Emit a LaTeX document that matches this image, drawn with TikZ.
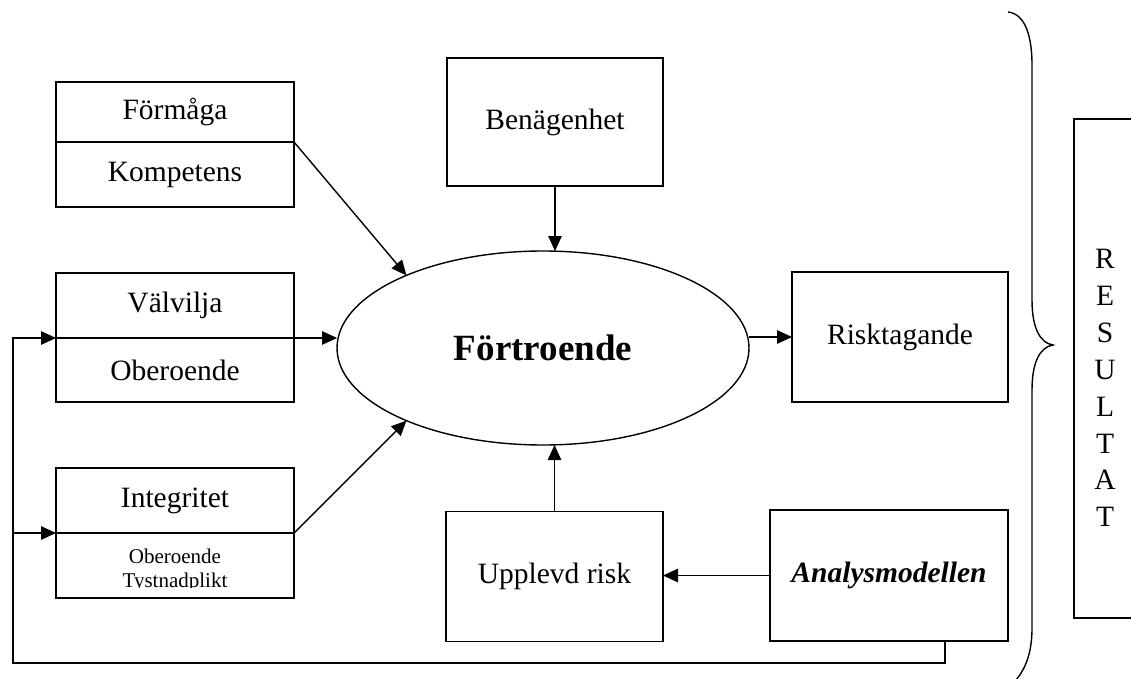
\documentclass[tikz,border=0pt]{standalone}
\usepackage{fontspec}
\setmainfont{Liberation Serif}
\usetikzlibrary{arrows.meta,shapes.geometric}
\begin{document}
\begin{tikzpicture}[x=1pt,y=-1pt,
  every node/.style={inner sep=0pt,outer sep=0pt},
  box/.style={draw,line width=1.4pt,rectangle,font=\fontsize{29.5}{34}\selectfont},
  smalltxt/.style={anchor=base,font=\fontsize{21}{24}\selectfont},
  arr/.style={line width=1.4pt,-{Triangle[length=15pt,width=13.5pt]}},
  ln/.style={line width=1.4pt},
]
\useasboundingbox (0,0) rectangle (1131,679);
% left boxes
\node[box,minimum width=238pt,minimum height=60pt] (form) at (175,112) {Förmåga};
\node[box,minimum width=238pt,minimum height=65pt] (komp) at (175,174.5) {Kompetens};
\node[box,minimum width=238pt,minimum height=65pt] (valv) at (175,305.5) {Välvilja};
\node[box,minimum width=238pt,minimum height=64pt] (ober) at (175,370) {Oberoende};
\node[box,minimum width=238pt,minimum height=65pt] (integ) at (175,500.5) {Integritet};
\node[box,minimum width=238pt,minimum height=65pt] (tyst) at (175,565.5) {};
\begin{scope}
  \clip (56,535) rectangle (294,587.5);
  \node[smalltxt] (t1) at (175,563) {Oberoende};
  \node[smalltxt] (t2) at (175,587) {Tystnadplikt};
\end{scope}
% centre
\node[box,minimum width=216pt,minimum height=128pt] (ben) at (555,122) {Benägenhet};
\node[draw,line width=1.4pt,ellipse,minimum width=412pt,minimum height=194pt,
      font=\fontsize{37}{40}\selectfont\bfseries] (ell) at (543,348) {Förtroende};
\node[box,minimum width=216pt,minimum height=130pt] (risk) at (900,337) {Risktagande};
\node[box,minimum width=217pt,minimum height=130pt] (upp) at (554.5,576.5) {Upplevd risk};
\node[box,minimum width=238pt,minimum height=131pt,
      font=\fontsize{29.5}{34}\selectfont\bfseries\itshape] (ana) at (889,575.5) {Analysmodellen};
% result
\node[box,minimum width=66pt,minimum height=499pt] (res) at (1107,368.5) {};
\node[align=center,font=\fontsize{29.5}{36.9}\selectfont] (restxt) at (1105,388)
  {R\\E\\S\\U\\L\\T\\A\\T};
% brace
\draw[ln] (1008,12) .. controls (1026,14) and (1032,38) .. (1032,65)
  -- (1032,300) .. controls (1032,328) and (1040,343) .. (1053,345)
  .. controls (1040,347) and (1032,362) .. (1032,390)
  -- (1032,628) .. controls (1032,652) and (1026,668) .. (1016,680);
% arrows
\draw[arr] (komp.north east) -- (ell.152);
\draw[arr] (ober.north east) -- (ober.north east -| ell.west);
\draw[arr] (tyst.north east) -- (ell.208);
\draw[arr] (ben.south) -- (ben.south |- ell.north);
\draw[arr] (upp.north) -- (upp.north |- ell.south);
\draw[arr] (ell.east |- risk.west) -- (risk.west);
\draw[arr] (ana.west) -- (ana.west -| upp.east);
% feedback loop
\coordinate (c1) at (945,663);
\coordinate (c2) at (13,663);
\coordinate (c3) at (13,338);
\coordinate (c4) at (13,533);
\draw[arr] (ana.south -| c1) -- (c1) -- (c2) -- (c3) -- (ober.north west);
\draw[arr] (c4) -- (tyst.north west);
\end{tikzpicture}
\end{document}
